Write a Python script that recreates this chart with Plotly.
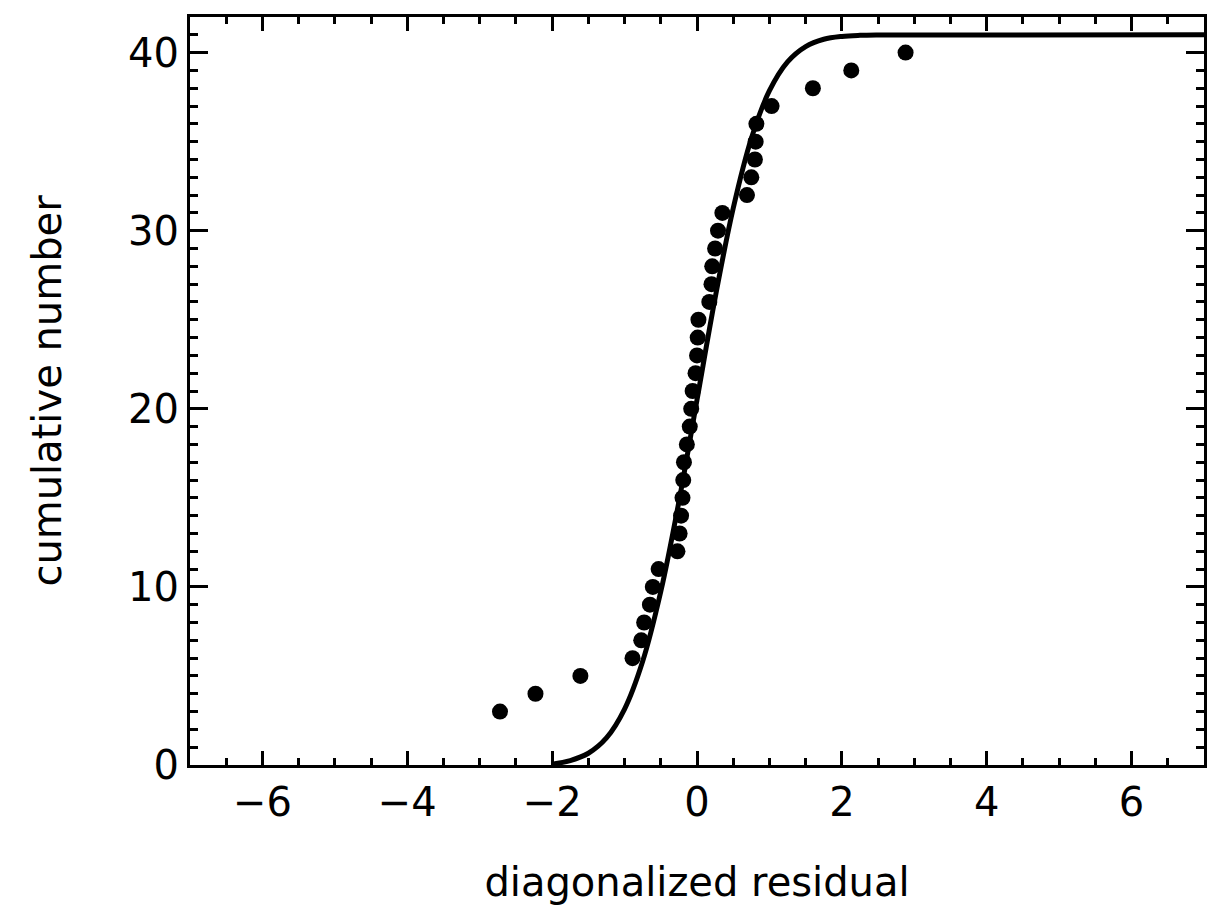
import plotly.graph_objects as go

# Observed data points (diagonalized residual, cumulative number)
resid_x = [-2.72, -2.23, -1.61, -0.89, -0.77, -0.73, -0.65, -0.61, -0.53, -0.27,
           -0.24, -0.22, -0.20, -0.19, -0.18, -0.14, -0.10, -0.08, -0.06, -0.02,
           0.00, 0.01, 0.02, 0.17, 0.20, 0.21, 0.25, 0.29, 0.35, 0.69,
           0.75, 0.80, 0.81, 0.82, 1.03, 1.60, 2.13, 2.88]
cum_y = [3, 4, 5, 6, 7, 8, 9, 10, 11, 12,
         13, 14, 15, 16, 17, 18, 19, 20, 21, 22,
         23, 24, 25, 26, 27, 28, 29, 30, 31, 32,
         33, 34, 35, 36, 37, 38, 39, 40]

# Model curve, values
curve_x = [-2.0, -1.75, -1.5, -1.25, -1.0, -0.75, -0.5, -0.25, 0.0,
           0.25, 0.5, 0.75, 1.0, 1.25, 1.5, 1.75, 2.0, 2.25, 2.5, 7.0]
curve_y = [0.05, 0.25, 0.66, 1.52, 3.14, 5.82, 9.74, 14.78, 20.5,
           26.22, 31.26, 35.18, 37.86, 39.48, 40.34, 40.75, 40.91, 40.97, 40.99, 41.0]

x_ticks = [-6, -4, -2, 0, 2, 4, 6]
y_ticks = [0, 10, 20, 30, 40]

FONT = "DejaVu Sans"

fig = go.Figure()
fig.add_trace(go.Scatter(x=curve_x, y=curve_y, mode="lines",
                         line=dict(color="black", width=5, shape="spline", smoothing=1.0),
                         hoverinfo="skip", showlegend=False))
fig.add_trace(go.Scatter(x=resid_x, y=cum_y, mode="markers",
                         marker=dict(color="black", size=16),
                         showlegend=False))

fig.update_layout(
    width=1221, height=923,
    margin=dict(l=182, r=25, t=6, b=166),
    paper_bgcolor="white", plot_bgcolor="white",
    font=dict(family=FONT, size=40, color="black"),
)
fig.update_xaxes(
    range=[-7, 7], tickvals=x_ticks, ticktext=[str(v).replace("-", "\u2212") for v in x_ticks],
    ticks="inside", ticklen=14, tickwidth=3, tickcolor="black",
    showline=True, linewidth=3, linecolor="black", mirror="allticks",
    showgrid=False, zeroline=False,
    minor=dict(dtick=0.5, tick0=0, ticks="inside", ticklen=7, tickwidth=3, tickcolor="black", showgrid=False),
    tickfont=dict(family=FONT, size=40),
    title=dict(text="diagonalized residual", font=dict(family=FONT, size=40), standoff=44),
)
fig.update_yaxes(
    range=[0, 42], tickvals=y_ticks,
    ticks="inside", ticklen=18, tickwidth=3, tickcolor="black",
    showline=True, linewidth=3, linecolor="black", mirror="allticks",
    showgrid=False, zeroline=False,
    minor=dict(dtick=1, tick0=0, ticks="inside", ticklen=8, tickwidth=3, tickcolor="black", showgrid=False),
    tickfont=dict(family=FONT, size=40),
    title=dict(text="cumulative number", font=dict(family=FONT, size=40), standoff=55),
)

fig.write_html("out.html")
